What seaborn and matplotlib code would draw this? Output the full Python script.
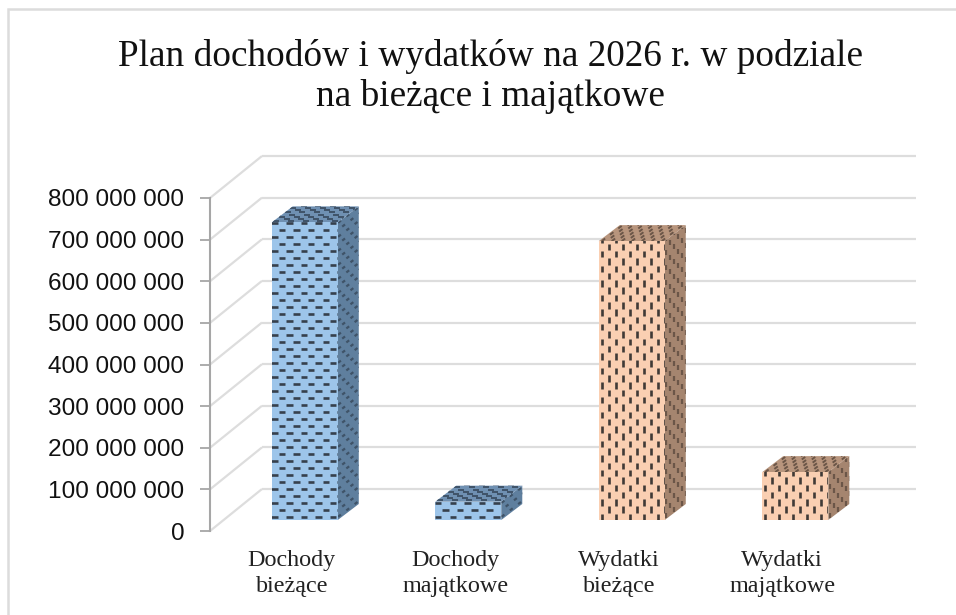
import numpy as np
import pandas as pd
import seaborn as sns
import matplotlib.pyplot as plt
from matplotlib.collections import LineCollection
from matplotlib.patches import Polygon, Rectangle
from matplotlib.transforms import IdentityTransform

title = 'Plan dochodów i wydatków na 2026 r. w podziale\nna bieżące i majątkowe'
categories = ['Dochody\nbieżące', 'Dochody\nmajątkowe', 'Wydatki\nbieżące', 'Wydatki\nmajątkowe']
values = [715000000, 44000000, 670000000, 115000000]
front_colors = ['#9DC5EA', '#9DC5EA', '#FACFB2', '#FACFB2']
side_colors = ['#5F7F9E', '#5F7F9E', '#A5856F', '#A5856F']
top_colors = ['#6F90B2', '#6F90B2', '#B8957D', '#B8957D']
dash_colors = ['#36404C', '#36404C', '#403A36', '#403A36']
soft_dash_colors = ['#3F5368', '#3F5368', '#6B5648', '#6B5648']
horizontal = [True, True, False, False]
ticks = list(range(0, 900000000, 100000000))

W, H = 956, 615
WALL = np.array([52, 42])
BAR_SHIFT = np.array([13, 11])
DEPTH = np.array([21.0, 16.0])

sns.set_style('white')
plt.rcParams['font.family'] = ['Liberation Serif', 'DejaVu Serif']

df = pd.DataFrame({'cat': categories, 'value': values})

fig = plt.figure(figsize=(W / 100, H / 100), dpi=100)
ax = fig.add_axes([210 / W, (H - 531) / H, 654 / W, 333 / H])
sns.barplot(data=df, x='cat', y='value', hue='cat', palette=front_colors,
            width=0.404, saturation=1, legend=False, ax=ax)
ax.set_xlim(-0.5, 3.5)
ax.set_ylim(0, 800000000)
ax.set_xlabel('')
ax.set_ylabel('')
sns.despine(ax=ax, top=True, right=True, bottom=True)
ax.spines['left'].set_color('#A6A6A6')
ax.spines['left'].set_linewidth(1.5)
ax.set_yticks(ticks)
ax.set_yticklabels([f'{t:,}'.replace(',', ' ') for t in ticks],
                   fontfamily='Liberation Sans', fontsize=17.6, color='#111111')
ax.tick_params(axis='y', length=7, width=1.3, color='#A6A6A6', pad=11.5, left=True)
ax.tick_params(axis='x', length=0, pad=14, labelsize=17.4, labelcolor='#222222')
for lab in ax.get_xticklabels():
    lab.set_linespacing(1.3)


def px_line(points, color='#DDDDDD', lw=1.6, z=1):
    pts = np.array(points)
    ax.plot(pts[:, 0], pts[:, 1], color=color, lw=lw, transform=IdentityTransform(),
            clip_on=False, zorder=z, solid_capstyle='butt')


# wall and floor lines behind the bars
for t in ticks:
    left = ax.transData.transform((-0.5, t))
    right = ax.transData.transform((3.5, t))
    px_line([left, left + WALL])
    px_line([left + WALL, right + WALL])


def dashes(origin, u, v, row_step, col_step, length, is_horizontal):
    # staggered dash lattice covering a parallelogram, in pixels
    segs = []
    u_len = np.abs(u).sum()
    v_len = np.abs(v).sum()
    u_dir = u / u_len
    v_dir = v / v_len
    if is_horizontal:
        n_rows = int(v_len / row_step) + 2
        n_cols = int(u_len / col_step) + 2
        for r in range(n_rows):
            for c in range(-1, n_cols):
                off = col_step / 2 if r % 2 else 0
                p = origin + u_dir * (c * col_step + off + 3) + v_dir * (r * row_step + 3)
                segs.append([p - u_dir * length / 2, p + u_dir * length / 2])
    else:
        n_cols = int(u_len / row_step) + 2
        n_rows = int(v_len / col_step) + 2
        for c in range(n_cols):
            for r in range(-1, n_rows):
                off = col_step / 2 if c % 2 else 0
                p = origin + u_dir * (c * row_step + 3) + v_dir * (r * col_step + off + 3)
                segs.append([p - v_dir * length / 2, p + v_dir * length / 2])
    return segs


def face(origin, u, v, color, dash_color, is_horizontal, row_step, col_step, length, lw, z):
    corners = [origin, origin + u, origin + u + v, origin + v]
    poly = Polygon(corners, closed=True, facecolor=color, edgecolor='none',
                   transform=IdentityTransform(), zorder=z)
    fig.add_artist(poly)
    lines = LineCollection(dashes(origin, u, v, row_step, col_step, length, is_horizontal),
                           colors=dash_color, linewidths=lw, capstyle='butt',
                           transform=IdentityTransform(), zorder=z + 0.1)
    fig.add_artist(lines)
    lines.set_clip_path(poly)


# bars: seaborn sets sizes and places, the 3D box is built from each bar
bars = sorted([p for p in ax.patches if isinstance(p, Rectangle)], key=lambda p: p.get_x())
for i, bar in enumerate(bars):
    p0 = ax.transData.transform((bar.get_x(), 0))
    p1 = ax.transData.transform((bar.get_x() + bar.get_width(), bar.get_height()))
    w = p1[0] - p0[0]
    h = p1[1] - p0[1]
    bl = p0 + BAR_SHIFT
    u = np.array([w, 0.0])
    v = np.array([0.0, h])
    z = 3 + i
    face(bl, u, v, front_colors[i], dash_colors[i], horizontal[i], 7, 14.6, 6.5, 1.9, z + 0.4)
    face(bl + u, DEPTH, v, side_colors[i], soft_dash_colors[i], horizontal[i], 7, 14.6, 5, 1.6, z)
    face(bl + v, u, DEPTH, top_colors[i], soft_dash_colors[i], horizontal[i], 5, 14.6, 6, 1.4, z)
    bar.set_visible(False)

fig.text(490 / W, 1 - 76.5 / H, title, ha='center', va='center', fontsize=26.8,
         color='#111111', linespacing=1.21)

# chart frame, only left and top reach the picture
fig.add_artist(Polygon([[8, 0], [8, H - 9], [W, H - 9]], closed=False, fill=False,
                       edgecolor='#DCDCDC', lw=1.8, transform=IdentityTransform()))

fig.savefig('out.png', dpi=100)
